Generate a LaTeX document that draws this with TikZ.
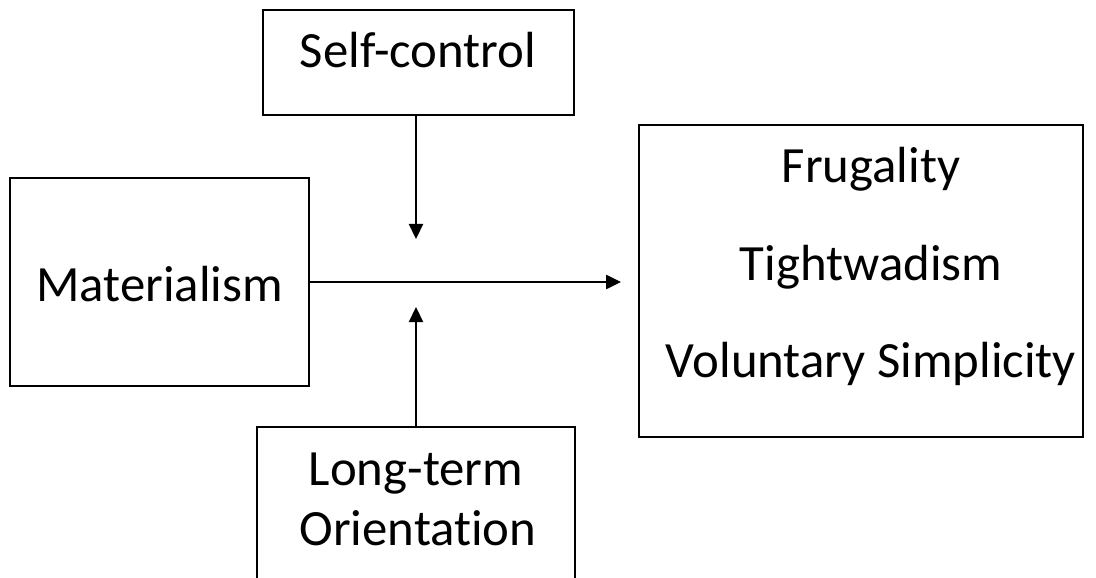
\documentclass[tikz,border=0pt]{standalone}
\usepackage{fontspec}
\setmainfont[Ligatures=NoCommon]{Carlito}
\usetikzlibrary{arrows.meta}
\begin{document}
\begin{tikzpicture}[%
      x=1bp, y=-1bp,
      box/.style={rectangle, draw, line width=1.8bp, inner sep=0pt},
      word/.style={anchor=base, inner sep=0pt, font=\fontsize{51}{61}\selectfont},
      line/.style={draw, line width=2.2bp, -{Triangle[length=15bp, width=14bp]}}
      ]
    \clip (0, 0) rectangle (1096, 578);

    \node [box, minimum width=311bp, minimum height=105bp] (sc) at (418.5, 62.5) {};
    \node [word] (sctext) at (418, 68) {Self-control};

    \node [box, minimum width=299bp, minimum height=208bp] (mat) at (159.5, 282) {};
    \node [word] (mattext) at (159.5, 302) {Materialism};

    \node [box, minimum width=444bp, minimum height=312bp] (out) at (861, 281) {};
    \node [word] (frug) at (871, 183) {Frugality};
    \node [word] (tight) at (871, 281) {Tightwadism};
    \node [word] (vs) at (871, 377) {Voluntary Simplicity};

    \node [box, minimum width=318bp, minimum height=200bp] (lto) at (416, 527) {};
    \node [word] (ltotext) at (416, 485) {Long-term};
    \node [word] (oritext) at (418, 545) {Orientation};

    \coordinate (down) at (416, 239);
    \coordinate (up) at (416, 307);

    \path [line] (sc.south -| down) -- (down);
    \path [line] (lto.north -| up) -- (up);
    \path [line, shorten >=17bp] (mat.east) -- (mat.east -| out.west);
  \end{tikzpicture}
\end{document}
